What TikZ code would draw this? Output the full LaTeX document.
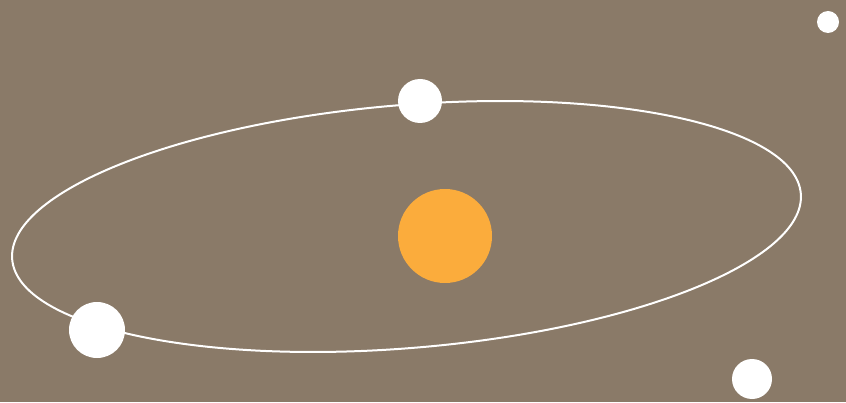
\documentclass[tikz,border=0pt]{standalone}
\usepackage{xcolor}
\usepackage{tikz}
\definecolor{dusk}{RGB}{138,122,104}
\definecolor{sunny}{RGB}{251,172,60}

\begin{document}
\begin{tikzpicture}[
  x=1pt, y=1pt,
  planet/.style={circle, fill=white, inner sep=0pt},
  star/.style={circle, fill=sunny, inner sep=0pt, minimum size=94pt},
  orbit/.style={draw=white, line width=2pt},
]

% fondo
\fill[dusk] (0,0) rectangle (846,402);
\useasboundingbox (0,0) rectangle (846,402);

% orbita
\draw[orbit, rotate around={4.76:(406.5,175.5)}] (406.5,175.5) ellipse (395.7 and 121.5);

% sol
\node[star] (sun) at (445,166) {};

% planetas
\node[planet, minimum size=44pt] (top)   at (420,301) {};
\node[planet, minimum size=56pt] (left)  at (97,72)   {};
\node[planet, minimum size=40pt] (low)   at (752,23)  {};
\node[planet, minimum size=22pt] (far)   at (828,380) {};

\end{tikzpicture}
\end{document}
